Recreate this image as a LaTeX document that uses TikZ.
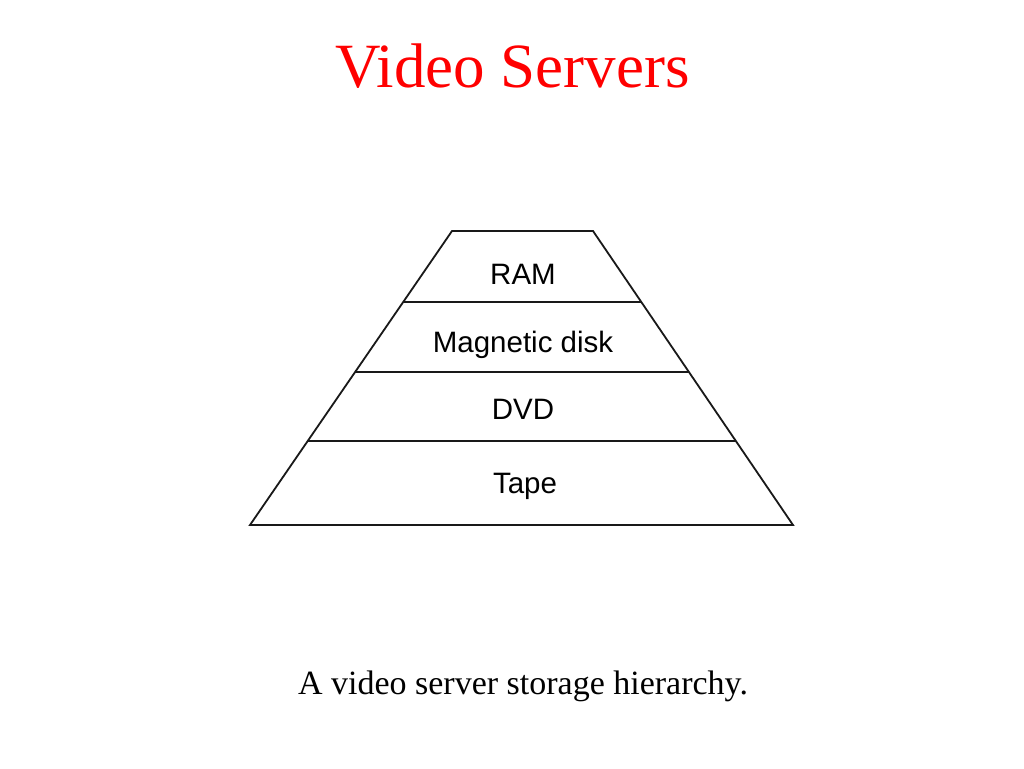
\documentclass[tikz,border=0pt]{standalone}
\usepackage{fontspec}
\setmainfont{Liberation Serif}
\newfontfamily\labelfont{Liberation Sans}
\begin{document}
\begin{tikzpicture}[x=1pt,y=-1pt,
  layerline/.style={line width=1.8pt,line join=miter,black!90},
  layerlabel/.style={font=\labelfont\fontsize{29.5}{34}\selectfont,anchor=base,inner sep=0pt,text=black},
  titletext/.style={font=\fontsize{63}{70}\selectfont,text=red,anchor=base,inner sep=0pt},
  captiontext/.style={font=\fontsize{34}{40}\selectfont,anchor=base,inner sep=0pt}]
\useasboundingbox[fill=white] (0,0) rectangle (1024,768);
\node[titletext] (title) at (512.5,87) {Video Servers};
% pyramid corners
\coordinate (tl) at (452,231);
\coordinate (tr) at (593,231);
\coordinate (bl) at (250,525);
\coordinate (br) at (793,525);
\coordinate (l1) at (403.2,302);
\coordinate (r1) at (641.3,302);
\coordinate (l2) at (355.1,372);
\coordinate (r2) at (689.1,372);
\coordinate (l3) at (307.7,441);
\coordinate (r3) at (735.9,441);
\draw[layerline] (tl) -- (tr) -- (br) -- (bl) -- cycle;
\draw[layerline] (l1) -- (r1);
\draw[layerline] (l2) -- (r2);
\draw[layerline] (l3) -- (r3);
\node[layerlabel] (ram) at (523,284) {RAM};
\node[layerlabel] (disk) at (523,352) {Magnetic disk};
\node[layerlabel] (dvd) at (523,419) {DVD};
\node[layerlabel] (tape) at (525,493) {Tape};
\node[captiontext] (caption) at (523,694) {A video server storage hierarchy.};
\end{tikzpicture}
\end{document}
